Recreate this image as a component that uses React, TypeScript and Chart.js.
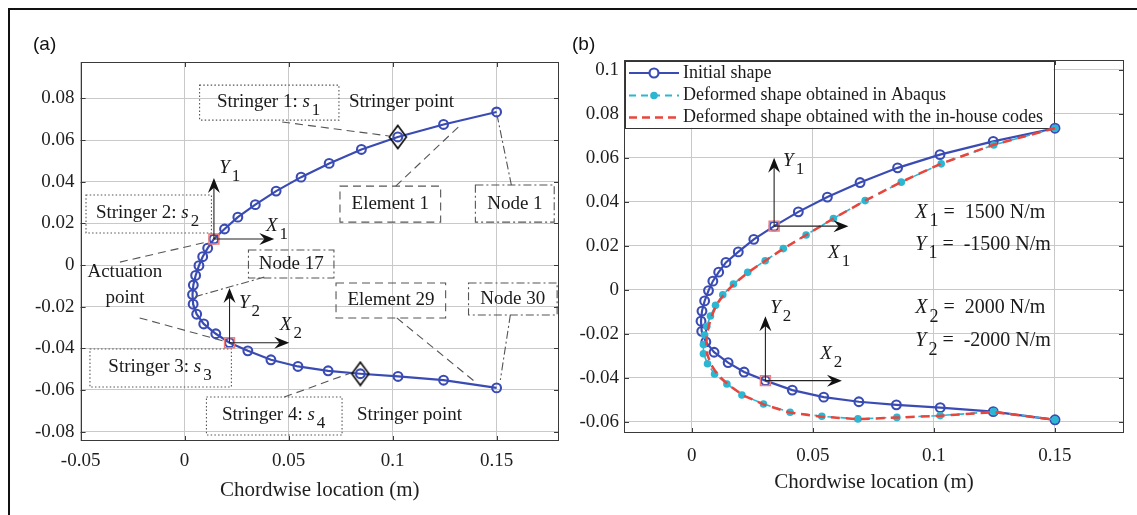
import React, { useEffect, useRef } from "react";
import { Chart, registerables } from "chart.js";

Chart.register(...registerables);

const SERIF = '"Liberation Serif", "Times New Roman", serif';
const SANS = '"Liberation Sans", Arial, sans-serif';

// ---------------- data ----------------
// Initial shape: nodes 1..30 (trailing edge upper -> nose -> trailing edge lower)
const initialX = [0.1500, 0.1245, 0.1025, 0.0850, 0.0695, 0.0560, 0.0440, 0.0340, 0.0256, 0.0192, 0.0141, 0.0111, 0.0087, 0.0069, 0.0053, 0.0042, 0.0038, 0.0041, 0.0058, 0.0092, 0.0150, 0.0216, 0.0304, 0.0415, 0.0545, 0.0690, 0.0845, 0.1026, 0.1245, 0.1500];
const initialY = [0.0735, 0.0675, 0.0615, 0.0555, 0.0488, 0.0422, 0.0355, 0.0290, 0.0230, 0.0173, 0.0125, 0.0081, 0.0040, -0.0003, -0.0050, -0.0096, -0.0142, -0.0188, -0.0236, -0.0283, -0.0330, -0.0373, -0.0412, -0.0455, -0.0487, -0.0508, -0.0522, -0.0535, -0.0553, -0.0590];

// Deformed shape obtained in Abaqus
const abaqusX = [0.1500, 0.1247, 0.1030, 0.0865, 0.0716, 0.0585, 0.0472, 0.0378, 0.0303, 0.0231, 0.0172, 0.0128, 0.0098, 0.0077, 0.0062, 0.0053, 0.0048, 0.0048, 0.0065, 0.0094, 0.0145, 0.0207, 0.0296, 0.0406, 0.0537, 0.0686, 0.0847, 0.1026, 0.1247, 0.1500];
const abaqusY = [0.0735, 0.0659, 0.0573, 0.0490, 0.0406, 0.0325, 0.0250, 0.0188, 0.0133, 0.0080, 0.0027, -0.0022, -0.0070, -0.0118, -0.0165, -0.0205, -0.0248, -0.0290, -0.0335, -0.0382, -0.0427, -0.0477, -0.0518, -0.0556, -0.0574, -0.0586, -0.0579, -0.0571, -0.0553, -0.0590];

// Deformed shape obtained with the in-house codes
const inhouseX = [0.1500, 0.1247, 0.1032, 0.0866, 0.0718, 0.0587, 0.0474, 0.0380, 0.0305, 0.0234, 0.0175, 0.0132, 0.0102, 0.0083, 0.0070, 0.0062, 0.0060, 0.0064, 0.0078, 0.0105, 0.0150, 0.0210, 0.0296, 0.0404, 0.0535, 0.0684, 0.0846, 0.1026, 0.1247, 0.1500];
const inhouseY = [0.0735, 0.0660, 0.0575, 0.0491, 0.0407, 0.0326, 0.0251, 0.0189, 0.0134, 0.0081, 0.0028, -0.0021, -0.0068, -0.0116, -0.0163, -0.0206, -0.0249, -0.0292, -0.0336, -0.0383, -0.0430, -0.0478, -0.0520, -0.0557, -0.0576, -0.0587, -0.0580, -0.0572, -0.0555, -0.0590];

const stringerNodesA = [3, 27];
const actuationNodesA = [11, 22];
const actuationNodesB = [8, 23];

const leftXTicks = [-0.05, 0, 0.05, 0.1, 0.15];
const leftYTicks = [-0.08, -0.06, -0.04, -0.02, 0, 0.02, 0.04, 0.06, 0.08];
const rightXTicks = [0, 0.05, 0.1, 0.15];
const rightYTicks = [-0.06, -0.04, -0.02, 0, 0.02, 0.04, 0.06, 0.08, 0.1];

const legendLabels = [
  "Initial shape",
  "Deformed shape obtained in Abaqus",
  "Deformed shape obtained with the in-house codes",
];
const forceNames = ["X", "Y", "X", "Y"];
const forceSubs = ["1", "1", "2", "2"];
const forceValues = ["1500 N/m", "-1500 N/m", "2000 N/m", "-2000 N/m"];

// ---------------- styles ----------------
const BLUE = "#3a4cb4";
const CYAN = "#2bb6d2";
const RED = "#e8453c";
const SQUARE = "#f07c78";
const GRID = "#c9c9c9";
const NOTE = "#555555";
const DOT = [1.5, 2.2];
const DASH = [8, 5];
const DASHDOT = [8, 3, 2, 3];

const pts = (xs: number[], ys: number[]) => xs.map((x, i) => ({ x, y: ys[i] }));
const nodePts = (nodes: number[]) => nodes.map((n) => ({ x: initialX[n - 1], y: initialY[n - 1] }));
const fmt = (v: number) => String(Math.round(v * 100) / 100);

type Seg = { t: string; i?: boolean; sub?: boolean };

function rich(ctx: CanvasRenderingContext2D, segs: Seg[], x: number, y: number, align: "left" | "center", size = 19) {
  const fontOf = (s: Seg) => `${s.i ? "italic " : ""}${s.sub ? Math.round(size * 0.88) : size}px ${SERIF}`;
  let total = 0;
  const widths = segs.map((s) => {
    ctx.font = fontOf(s);
    const w = ctx.measureText(s.t).width + (s.sub ? 2 : 0);
    total += w;
    return w;
  });
  let cx = align === "center" ? x - total / 2 : x;
  ctx.textBaseline = "middle";
  ctx.textAlign = "left";
  ctx.fillStyle = "#1a1a1a";
  segs.forEach((s, k) => {
    ctx.font = fontOf(s);
    ctx.fillText(s.t, cx + (s.sub ? 2 : 0), y + (s.sub ? size * 0.45 : 0));
    cx += widths[k];
  });
}

function seg(ctx: CanvasRenderingContext2D, x0: number, y0: number, x1: number, y1: number, dash: number[], color = NOTE, w = 1.1) {
  ctx.save();
  ctx.strokeStyle = color;
  ctx.lineWidth = w;
  ctx.setLineDash(dash);
  ctx.beginPath();
  ctx.moveTo(x0, y0);
  ctx.lineTo(x1, y1);
  ctx.stroke();
  ctx.restore();
}

function box(ctx: CanvasRenderingContext2D, x0: number, y0: number, x1: number, y1: number, dash: number[]) {
  ctx.save();
  ctx.strokeStyle = NOTE;
  ctx.lineWidth = 1.1;
  ctx.setLineDash(dash);
  ctx.strokeRect(x0, y0, x1 - x0, y1 - y0);
  ctx.restore();
}

function arrow(ctx: CanvasRenderingContext2D, x0: number, y0: number, x1: number, y1: number) {
  ctx.save();
  ctx.strokeStyle = "#222";
  ctx.fillStyle = "#111";
  ctx.lineWidth = 1.1;
  ctx.setLineDash([]);
  const a = Math.atan2(y1 - y0, x1 - x0);
  const c = Math.cos(a), s = Math.sin(a);
  const L = 15, W = 6;
  ctx.beginPath();
  ctx.moveTo(x0, y0);
  ctx.lineTo(x1 - L * 0.6 * c, y1 - L * 0.6 * s);
  ctx.stroke();
  const bx = x1 - L * c, by = y1 - L * s;
  ctx.beginPath();
  ctx.moveTo(x1, y1);
  ctx.lineTo(bx - s * W, by + c * W);
  ctx.lineTo(x1 - L * 0.65 * c, y1 - L * 0.65 * s);
  ctx.lineTo(bx + s * W, by - c * W);
  ctx.closePath();
  ctx.fill();
  ctx.restore();
}

function drawFrame(chart: any, xt: number[], yt: number[]) {
  const { ctx, chartArea: a } = chart;
  const xs = chart.scales.x, ys = chart.scales.y;
  ctx.save();
  ctx.strokeStyle = "#3a3a3a";
  ctx.lineWidth = 1;
  ctx.setLineDash([]);
  ctx.strokeRect(Math.round(a.left) + 0.5, Math.round(a.top) + 0.5, Math.round(a.right - a.left) - 1, Math.round(a.bottom - a.top) - 1);
  ctx.beginPath();
  xt.forEach((v) => {
    const p = Math.round(xs.getPixelForValue(v)) + 0.5;
    ctx.moveTo(p, a.bottom); ctx.lineTo(p, a.bottom - 5);
    ctx.moveTo(p, a.top); ctx.lineTo(p, a.top + 5);
  });
  yt.forEach((v) => {
    const p = Math.round(ys.getPixelForValue(v)) + 0.5;
    ctx.moveTo(a.left, p); ctx.lineTo(a.left + 5, p);
    ctx.moveTo(a.right, p); ctx.lineTo(a.right - 5, p);
  });
  ctx.stroke();
  ctx.restore();
}

function text(ctx: CanvasRenderingContext2D, t: string, x: number, y: number, align: CanvasTextAlign, size = 19) {
  ctx.save();
  ctx.font = `${size}px ${SERIF}`;
  ctx.fillStyle = "#1a1a1a";
  ctx.textAlign = align;
  ctx.textBaseline = "middle";
  ctx.fillText(t, x, y);
  ctx.restore();
}

function drawLeftNotes(chart: any) {
  const ctx: CanvasRenderingContext2D = chart.ctx;
  const X = (v: number) => chart.scales.x.getPixelForValue(v);
  const Y = (v: number) => chart.scales.y.getPixelForValue(v);
  const nx = (n: number) => X(initialX[n - 1]);
  const ny = (n: number) => Y(initialY[n - 1]);
  ctx.save();
  // Stringer 1
  box(ctx, X(0.0072), Y(0.0864), X(0.0742), Y(0.0696), DOT);
  rich(ctx, [{ t: "Stringer 1: " }, { t: "s", i: true }, { t: "1", sub: true }], X(0.0404), Y(0.0782), "center");
  text(ctx, "Stringer point", X(0.079), Y(0.0782), "left");
  seg(ctx, X(0.0469), Y(0.0687), nx(3) - 9, ny(3) - 1, DASH);
  // Element 1
  box(ctx, X(0.0747), Y(0.0379), X(0.1231), Y(0.0206), DASH);
  text(ctx, "Element 1", X(0.0989), Y(0.0292), "center");
  seg(ctx, X(0.1015), Y(0.0379), X(0.1331), Y(0.0677), DASH);
  // Node 1
  box(ctx, X(0.1398), Y(0.0384), X(0.1777), Y(0.0206), DASHDOT);
  text(ctx, "Node 1", X(0.1588), Y(0.0295), "center");
  seg(ctx, X(0.1571), Y(0.0384), X(0.1504), Y(0.0712), DASHDOT);
  // Stringer 2
  box(ctx, X(-0.0474), Y(0.0336), X(0.0129), Y(0.0154), DOT);
  rich(ctx, [{ t: "Stringer 2: " }, { t: "s", i: true }, { t: "2", sub: true }], X(-0.0178), Y(0.0249), "center");
  // Actuation 1 axes
  arrow(ctx, nx(11), ny(11), nx(11), Y(0.0418));
  arrow(ctx, nx(11), ny(11), X(0.0431), ny(11));
  rich(ctx, [{ t: "Y", i: true }, { t: "1", sub: true }], X(0.0166), Y(0.0468), "left");
  rich(ctx, [{ t: "X", i: true }, { t: "1", sub: true }], X(0.0391), Y(0.0189), "left");
  // Node 17
  box(ctx, X(0.0307), Y(0.0072), X(0.0718), Y(-0.0062), DASHDOT);
  text(ctx, "Node 17", X(0.0513), Y(0.0005), "center");
  seg(ctx, X(0.0383), Y(-0.0058), nx(17) + 3, ny(17) + 2, DASHDOT);
  // Actuation point
  text(ctx, "Actuation", X(-0.0287), Y(-0.0034), "center");
  text(ctx, "point", X(-0.0287), Y(-0.0160), "center");
  seg(ctx, X(-0.0311), Y(0.0014), nx(11) - 7, ny(11) + 3, DASH);
  seg(ctx, X(-0.0216), Y(-0.0254), nx(22) - 7, ny(22) - 2, DASH);
  // Actuation 2 axes
  arrow(ctx, nx(22), ny(22), nx(22), Y(-0.011));
  arrow(ctx, nx(22), ny(22), X(0.0503), ny(22));
  rich(ctx, [{ t: "Y", i: true }, { t: "2", sub: true }], X(0.0261), Y(-0.0180), "left");
  rich(ctx, [{ t: "X", i: true }, { t: "2", sub: true }], X(0.0458), Y(-0.0286), "left");
  // Stringer 3
  box(ctx, X(-0.0455), Y(-0.0403), X(0.0225), Y(-0.0586), DOT);
  rich(ctx, [{ t: "Stringer 3: " }, { t: "s", i: true }, { t: "3", sub: true }], X(-0.0118), Y(-0.0490), "center");
  // Element 29
  box(ctx, X(0.0728), Y(-0.0086), X(0.1255), Y(-0.0254), DASH);
  text(ctx, "Element 29", X(0.0992), Y(-0.0168), "center");
  seg(ctx, X(0.102), Y(-0.0254), X(0.1398), Y(-0.0562), DASH);
  // Node 30
  box(ctx, X(0.1365), Y(-0.0086), X(0.1791), Y(-0.024), DASHDOT);
  text(ctx, "Node 30", X(0.1578), Y(-0.0163), "center");
  seg(ctx, X(0.1566), Y(-0.024), X(0.1518), Y(-0.0552), DASHDOT);
  // Stringer 4
  box(ctx, X(0.0105), Y(-0.0634), X(0.0757), Y(-0.0816), DOT);
  rich(ctx, [{ t: "Stringer 4: " }, { t: "s", i: true }, { t: "4", sub: true }], X(0.0428), Y(-0.0721), "center");
  text(ctx, "Stringer point", X(0.0829), Y(-0.0721), "left");
  seg(ctx, X(0.0479), Y(-0.0634), nx(27) - 9, ny(27) - 1, DASH);
  ctx.restore();
}

function drawRightNotes(chart: any) {
  const ctx: CanvasRenderingContext2D = chart.ctx;
  const X = (v: number) => chart.scales.x.getPixelForValue(v);
  const Y = (v: number) => chart.scales.y.getPixelForValue(v);
  const nx = (n: number) => X(initialX[n - 1]);
  const ny = (n: number) => Y(initialY[n - 1]);
  ctx.save();
  arrow(ctx, nx(8), ny(8), nx(8), Y(0.0601));
  arrow(ctx, nx(8), ny(8), X(0.0647), ny(8));
  rich(ctx, [{ t: "Y", i: true }, { t: "1", sub: true }], X(0.0377), Y(0.0586), "left");
  rich(ctx, [{ t: "X", i: true }, { t: "1", sub: true }], X(0.0563), Y(0.0166), "left");
  arrow(ctx, nx(23), ny(23), nx(23), Y(-0.0119));
  arrow(ctx, nx(23), ny(23), X(0.062), ny(23));
  rich(ctx, [{ t: "Y", i: true }, { t: "2", sub: true }], X(0.0324), Y(-0.008), "left");
  rich(ctx, [{ t: "X", i: true }, { t: "2", sub: true }], X(0.053), Y(-0.0289), "left");
  const fy = [0.0351, 0.0207, -0.0081, -0.0233];
  forceNames.forEach((n, k) => {
    rich(ctx, [{ t: n, i: true }, { t: forceSubs[k], sub: true }, { t: " =  " + forceValues[k] }], X(0.0923), Y(fy[k]), "left", 20);
  });
  ctx.restore();
}

function drawLegend(chart: any) {
  const ctx: CanvasRenderingContext2D = chart.ctx;
  const a = chart.chartArea;
  const X = (v: number) => chart.scales.x.getPixelForValue(v);
  const Y = (v: number) => chart.scales.y.getPixelForValue(v);
  const x0 = a.left + 1, y0 = a.top + 1, x1 = X(0.1494), y1 = Y(0.0737);
  ctx.save();
  ctx.fillStyle = "#fff";
  ctx.fillRect(x0, y0, x1 - x0, y1 - y0);
  ctx.strokeStyle = "#333";
  ctx.lineWidth = 1;
  ctx.setLineDash([]);
  ctx.strokeRect(Math.round(x0) + 0.5, Math.round(y0) + 0.5, Math.round(x1 - x0), Math.round(y1 - y0));
  const rows = [y0 + 12, y0 + 34.5, y0 + 56.5];
  const sx0 = x0 + 4, sx1 = x0 + 54, mid = (sx0 + sx1) / 2;
  // row 1
  ctx.strokeStyle = BLUE; ctx.lineWidth = 2.2;
  ctx.beginPath(); ctx.moveTo(sx0, rows[0]); ctx.lineTo(sx1, rows[0]); ctx.stroke();
  ctx.fillStyle = "#fff";
  ctx.beginPath(); ctx.arc(mid, rows[0], 4.5, 0, Math.PI * 2); ctx.fill(); ctx.stroke();
  // row 2
  ctx.strokeStyle = CYAN; ctx.lineWidth = 2; ctx.setLineDash([7, 5]);
  ctx.beginPath(); ctx.moveTo(sx0, rows[1]); ctx.lineTo(sx1, rows[1]); ctx.stroke();
  ctx.setLineDash([]); ctx.fillStyle = CYAN;
  ctx.beginPath(); ctx.arc(mid, rows[1], 3.8, 0, Math.PI * 2); ctx.fill();
  // row 3
  ctx.strokeStyle = RED; ctx.lineWidth = 2.4; ctx.setLineDash([8, 5]);
  ctx.beginPath(); ctx.moveTo(sx0, rows[2]); ctx.lineTo(sx1, rows[2]); ctx.stroke();
  ctx.setLineDash([]);
  legendLabels.forEach((l, k) => text(ctx, l, x0 + 58, rows[k], "left", 18));
  ctx.restore();
}

function makeDiamond() {
  const c = document.createElement("canvas");
  c.width = 20; c.height = 26;
  const g = c.getContext("2d")!;
  g.strokeStyle = "#111";
  g.lineWidth = 1.7;
  g.beginPath();
  g.moveTo(10, 1.5); g.lineTo(18.5, 13); g.lineTo(10, 24.5); g.lineTo(1.5, 13); g.closePath();
  g.stroke();
  return c;
}

function axisCfg(min: number, max: number, ticks: number[], size: number, opts: any) {
  return {
    type: "linear",
    min,
    max,
    afterBuildTicks: (ax: any) => { ax.ticks = ticks.map((v) => ({ value: v })); },
    ticks: { callback: (v: any) => fmt(Number(v)), font: { family: SERIF, size }, color: "#1e1e1e", autoSkip: false, maxRotation: 0, padding: opts.padding },
    grid: { color: GRID, lineWidth: 1, drawTicks: false },
    border: { display: false },
    title: opts.title,
    afterFit: opts.afterFit,
  };
}

function circleLine(data: any) {
  return {
    data,
    showLine: true,
    borderColor: BLUE,
    borderWidth: 2.2,
    pointStyle: "circle",
    pointRadius: 4.4,
    pointBorderWidth: 2.1,
    pointBorderColor: BLUE,
    pointBackgroundColor: "rgba(255,255,255,0)",
  };
}

function squares(nodes: number[]) {
  return {
    data: nodePts(nodes),
    showLine: false,
    pointStyle: "rect",
    pointRadius: 7,
    pointBorderWidth: 1.5,
    pointBorderColor: SQUARE,
    pointBackgroundColor: "rgba(0,0,0,0)",
  };
}

export default function App() {
  const leftRef = useRef<HTMLCanvasElement>(null);
  const rightRef = useRef<HTMLCanvasElement>(null);

  useEffect(() => {
    document.body.style.margin = "0";
    const diamond = makeDiamond();
    const left = new Chart(leftRef.current as HTMLCanvasElement, {
      type: "scatter",
      data: {
        datasets: [
          squares(actuationNodesA),
          { data: nodePts(stringerNodesA), showLine: false, pointStyle: diamond, pointRadius: 10 },
          circleLine(pts(initialX, initialY)),
        ] as any,
      },
      options: {
        animation: false,
        responsive: false,
        events: [],
        layout: { padding: { left: 0, right: 9, top: 62, bottom: 0 } },
        plugins: { legend: { display: false }, tooltip: { enabled: false } },
        scales: {
          x: axisCfg(-0.05, 0.18, leftXTicks, 19, {
            padding: 9,
            title: { display: true, text: "Chordwise location (m)", font: { family: SERIF, size: 21 }, color: "#1e1e1e", padding: { top: 0, bottom: 12 } },
            afterFit: (ax: any) => { ax.height = 74; },
          }),
          y: axisCfg(-0.0845, 0.0975, leftYTicks, 19, {
            padding: 6,
            title: { display: false },
            afterFit: (ax: any) => { ax.width = 80.6; },
          }),
        } as any,
      },
      plugins: [
        {
          id: "leftNotes",
          beforeDatasetsDraw: (c: any) => drawFrame(c, leftXTicks, leftYTicks),
          afterDraw: (c: any) => drawLeftNotes(c),
        },
      ],
    } as any);

    const right = new Chart(rightRef.current as HTMLCanvasElement, {
      type: "scatter",
      data: {
        datasets: [
          squares(actuationNodesB),
          { data: pts(inhouseX, inhouseY), showLine: true, borderColor: RED, borderWidth: 2.5, borderDash: [9, 6], pointRadius: 0 },
          { data: pts(abaqusX, abaqusY), showLine: true, borderColor: CYAN, borderWidth: 1.6, borderDash: [7, 6], pointRadius: 3.8, pointBorderWidth: 0, pointBackgroundColor: CYAN, pointBorderColor: CYAN },
          circleLine(pts(initialX, initialY)),
        ] as any,
      },
      options: {
        animation: false,
        responsive: false,
        events: [],
        layout: { padding: { left: 0, right: 13, top: 60, bottom: 0 } },
        plugins: { legend: { display: false }, tooltip: { enabled: false } },
        scales: {
          x: axisCfg(-0.028, 0.1785, rightXTicks, 19, {
            padding: 12,
            title: { display: true, text: "Chordwise location (m)", font: { family: SERIF, size: 21 }, color: "#1e1e1e", padding: { top: 0, bottom: 20 } },
            afterFit: (ax: any) => { ax.height = 82; },
          }),
          y: axisCfg(-0.065, 0.1045, rightYTicks, 19, {
            padding: 5,
            title: { display: false },
            afterFit: (ax: any) => { ax.width = 54; },
          }),
        } as any,
      },
      plugins: [
        {
          id: "rightNotes",
          beforeDatasetsDraw: (c: any) => { drawFrame(c, rightXTicks, rightYTicks); drawLegend(c); },
          afterDraw: (c: any) => drawRightNotes(c),
        },
      ],
    } as any);

    return () => {
      left.destroy();
      right.destroy();
    };
  }, []);

  return (
    <div style={{ position: "absolute", left: 0, top: 0, width: 1137, height: 515, overflow: "hidden", background: "#fff" }}>
      <div style={{ position: "absolute", left: 8, top: 8, width: 1200, height: 600, borderTop: "2px solid #111", borderLeft: "2px solid #111" }} />
      <canvas ref={leftRef} width={570} height={515} style={{ position: "absolute", left: 0, top: 0 }} />
      <canvas ref={rightRef} width={567} height={515} style={{ position: "absolute", left: 570, top: 0 }} />
      <span style={{ position: "absolute", left: 33, top: 32, font: `19px ${SANS}`, color: "#111", lineHeight: "24px" }}>(a)</span>
      <span style={{ position: "absolute", left: 572, top: 32, font: `19px ${SANS}`, color: "#111", lineHeight: "24px" }}>(b)</span>
    </div>
  );
}
